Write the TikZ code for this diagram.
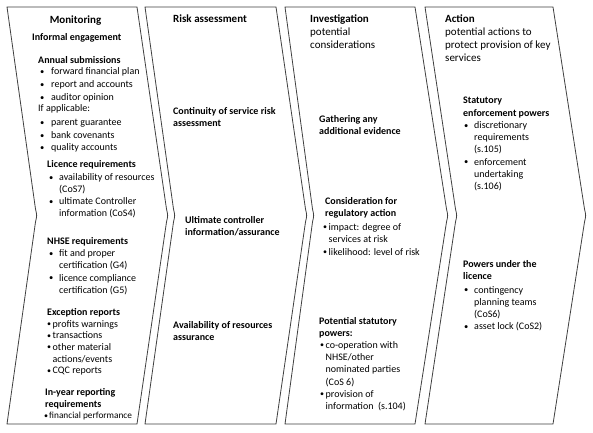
\documentclass[tikz,border=0pt]{standalone}
\usepackage{fontspec}
\setmainfont{Carlito}
\newcommand\mybul[1]{\makebox[#1][l]{\raisebox{0.3pt}{\fontsize{8.5}{8.5}\selectfont\textbullet}}}
\newcommand\mynbul[1]{\makebox[#1][l]{\raisebox{0.3pt}{\fontsize{8}{8}\selectfont\textbullet}}}
\begin{document}
\begin{tikzpicture}[x=1pt,y=-1pt,
  chev/.style={draw=black!75, line width=0.8pt, fill=white, line join=miter},
  txt/.style={anchor=base west, inner sep=0pt, font=\fontsize{10}{12}\selectfont},
  btxt/.style={txt, font=\fontsize{10}{12}\selectfont\bfseries},
  htxt/.style={txt, font=\fontsize{11}{13}\selectfont\bfseries},
  ltxt/.style={txt, font=\fontsize{11}{13}\selectfont}]
\useasboundingbox (0,0) rectangle (593,432);
\fill[white] (0,0) rectangle (593,432);
% chevrons
\foreach \L/\N/\R/\T in {7/37/137/168, 145/175/276/307, 285/314/415/448, 425/457/553/586}{
  \draw[chev] (\L,7) -- (\R,7) -- ({\T-1.5},209) .. controls (\T,215.5) .. ({\T-1.5},222)
    -- (\R,424) -- (\L,424) -- ({\N-1.5},222) .. controls (\N,215.5) .. ({\N-1.5},209) -- cycle;
}
% Monitoring
\node[htxt, anchor=base] (m0) at (75.5,23) {Monitoring};
\node[btxt] (m1) at (32,40.5) {Informal engagement};
\node[btxt] (m2) at (38,63.5) {Annual submissions};
\node[txt] (m3) at (40,74.5) {\mybul{11pt}forward financial plan};
\node[txt] (m4) at (40,87.5) {\mybul{11pt}report and accounts};
\node[txt] (m5) at (40,100.5) {\mybul{11pt}auditor opinion};
\node[txt] (m6) at (38,111.5) {If applicable:};
\node[txt] (m7) at (40,125.5) {\mybul{11pt}parent guarantee};
\node[txt] (m8) at (40,138.5) {\mybul{11pt}bank covenants};
\node[txt] (m9) at (40,150.5) {\mybul{11pt}quality accounts};
\node[btxt] (m10) at (47,167.5) {Licence requirements};
\node[txt] (m11) at (49,180.5) {\mybul{10pt}availability of resources};
\node[txt] (m12) at (59,192.5) {(CoS7)};
\node[txt] (m13) at (49,204.5) {\mybul{10pt}ultimate Controller};
\node[txt] (m14) at (59,216.5) {information (CoS4)};
\node[btxt] (m15) at (47,244.5) {NHSE requirements};
\node[txt] (m16) at (49,256.5) {\mybul{10pt}fit and proper};
\node[txt] (m17) at (59,268.5) {certification (G4)};
\node[txt] (m18) at (49,281) {\mybul{10pt}licence compliance};
\node[txt] (m19) at (59,293) {certification (G5)};
\node[btxt] (m20) at (47,315.5) {Exception reports};
\node[txt] (m21) at (47,327) {\mynbul{5.5pt}profits warnings};
\node[txt] (m22) at (47,338.5) {\mynbul{5.5pt}transactions};
\node[txt] (m23) at (47,350) {\mynbul{5.5pt}other material};
\node[txt] (m24) at (52.5,362) {actions/events};
\node[txt] (m25) at (47,373.5) {\mynbul{5.5pt}CQC reports};
\node[btxt] (m26) at (45,395.5) {In-year reporting};
\node[btxt] (m27) at (45,407) {requirements};
\node[txt, font=\fontsize{9.3}{12}\selectfont] (m28) at (44,418.5) {\mynbul{5pt}financial performance};
% Risk assessment
\node[htxt] (r0) at (173,22) {Risk assessment};
\node[btxt] (r1) at (173,114) {Continuity of service risk};
\node[btxt] (r2) at (173,126.5) {assessment};
\node[btxt] (r3) at (185,223.5) {Ultimate controller};
\node[btxt] (r4) at (185,235.5) {information/assurance};
\node[btxt] (r5) at (173,328.5) {Availability of resources};
\node[btxt] (r6) at (173,340.5) {assurance};
% Investigation
\node[htxt] (i0) at (310,22) {Investigation};
\node[ltxt] (i1) at (310,35) {potential};
\node[ltxt] (i2) at (310,48) {considerations};
\node[btxt] (i3) at (319,122) {Gathering any};
\node[btxt] (i4) at (319,134) {additional evidence};
\node[btxt] (i5) at (325,204) {Consideration for};
\node[btxt] (i6) at (325,216.5) {regulatory action};
\node[txt] (i7) at (323,230) {\mynbul{5.5pt}impact: degree of};
\node[txt] (i8) at (328.5,242) {services at risk};
\node[txt] (i9) at (323,255) {\mynbul{5.5pt}likelihood: level of risk};
\node[btxt] (i10) at (319,324) {Potential statutory};
\node[btxt] (i11) at (319,336) {powers:};
\node[txt] (i12) at (320,348) {\mynbul{5.5pt}co-operation with};
\node[txt] (i13) at (325.5,360) {NHSE/other};
\node[txt] (i14) at (325.5,372.5) {nominated parties};
\node[txt] (i15) at (325.5,385) {(CoS 6)};
\node[txt] (i16) at (320,397) {\mynbul{5.5pt}provision of};
\node[txt] (i17) at (325.5,409) {information\ \ (s.104)};
% Action
\node[htxt] (a0) at (445,22) {Action};
\node[ltxt] (a1) at (445,35) {potential actions to};
\node[ltxt] (a2) at (445,48) {protect provision of key};
\node[ltxt] (a3) at (445,61) {services};
\node[btxt] (a4) at (463,103.5) {Statutory};
\node[btxt] (a5) at (463,116.5) {enforcement powers};
\node[txt] (a6) at (464,128.5) {\mybul{10pt}discretionary};
\node[txt] (a7) at (474,140.5) {requirements};
\node[txt] (a8) at (474,152.5) {(s.105)};
\node[txt] (a9) at (464,165) {\mybul{10pt}enforcement};
\node[txt] (a10) at (474,177) {undertaking};
\node[txt] (a11) at (474,189) {(s.106)};
\node[btxt] (a12) at (463,267) {Powers under the};
\node[btxt] (a13) at (463,279) {licence};
\node[txt] (a14) at (464,293) {\mybul{10pt}contingency};
\node[txt] (a15) at (474,305) {planning teams};
\node[txt] (a16) at (474,317) {(CoS6)};
\node[txt] (a17) at (464,329.5) {\mybul{10pt}asset lock (CoS2)};
\end{tikzpicture}
\end{document}
